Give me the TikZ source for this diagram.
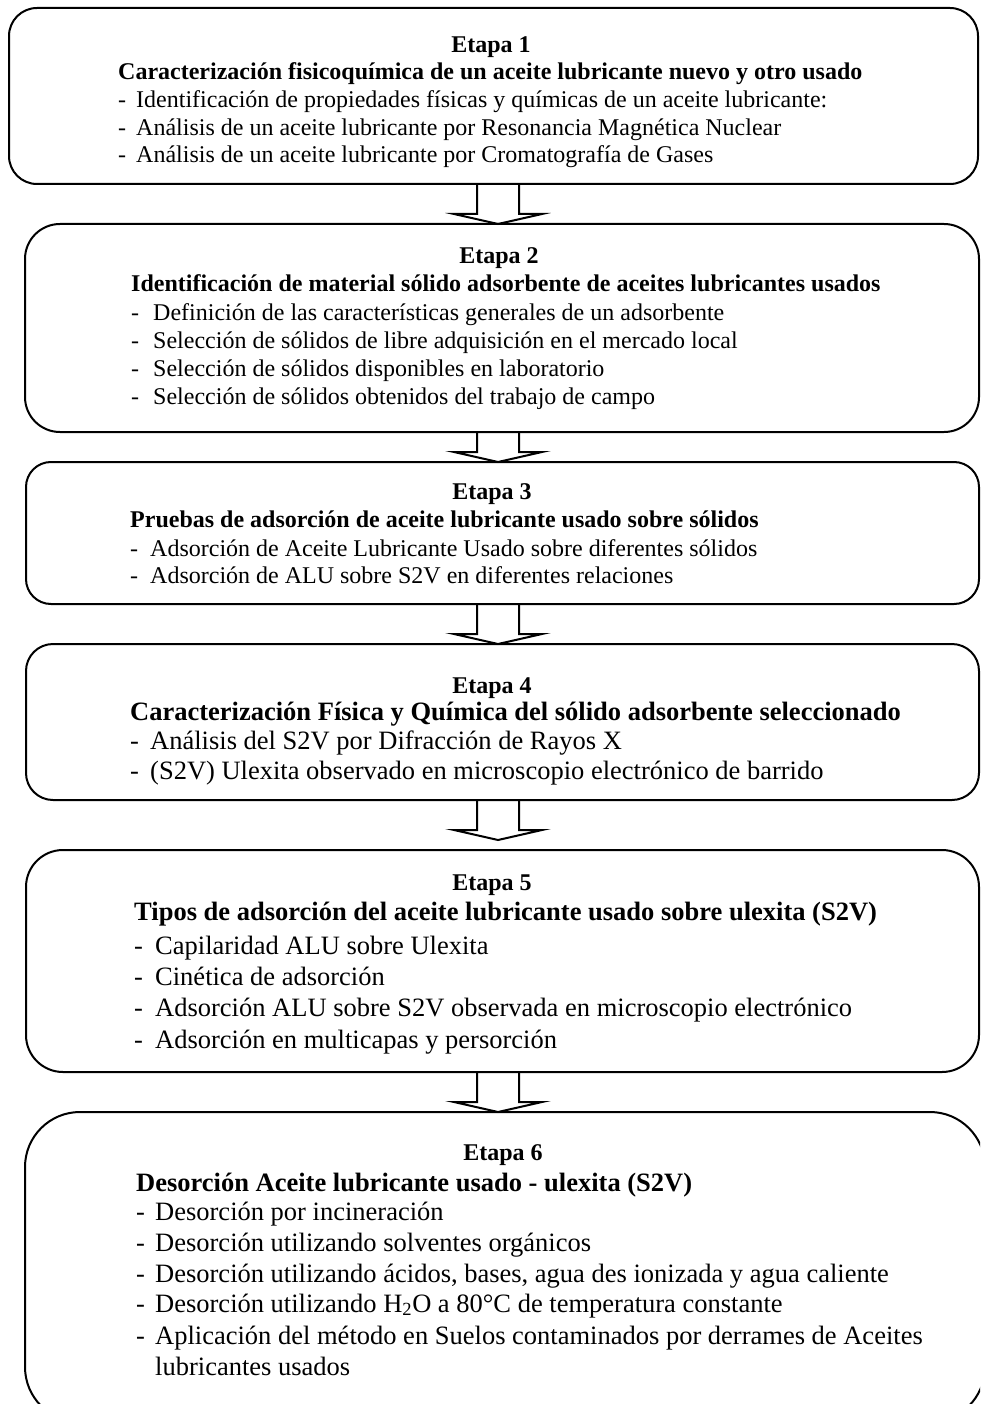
\documentclass[tikz,border=0pt]{standalone}
\usepackage{fontspec}
\setmainfont{Liberation Serif}
\usetikzlibrary{calc}
\newcommand\fsmall{\fontsize{24}{28}\selectfont}
\newcommand\flarge{\fontsize{26.5}{31}\selectfont}
\tikzset{
  box/.style={draw, line width=2pt, rectangle, inner sep=0pt, outer sep=0pt},
  ln/.style={anchor=base west, inner sep=0pt},
  etapa/.style={anchor=base, inner sep=0pt, font=\fsmall\bfseries},
  blk/.style={draw, line width=2pt, line join=miter},
}
\newcommand\itm[5]{\node[ln] (d#1) at (#2,#4) {-}; \node[ln] (t#1) at (#3,#4) {#5};}
\newcommand\blkarrow[3]{%
  \draw[blk] ($(ac |- #1.south)+(-21,0)$) -- ($(ac |- #2.north)+(-21,-10-#3)$) -- ++(-23,0)
    -- ($(ac |- #2.north)+(0,-#3)$) -- ($(ac |- #2.north)+(44,-10-#3)$) -- ++(-23,0)
    -- ($(ac |- #1.south)+(21,0)$);}
\begin{document}
\begin{tikzpicture}[x=1pt,y=-1pt]
\useasboundingbox (0,0) rectangle (980,1404);
\clip (0,0) rectangle (980,1404);
\coordinate (ac) at (498,0);
% boxes
\node[box, minimum width=969pt, minimum height=176pt, rounded corners=28pt] (b1) at (493.5,96) {};
\node[box, minimum width=954pt, minimum height=208pt, rounded corners=35pt] (b2) at (502,328) {};
\node[box, minimum width=953pt, minimum height=142pt, rounded corners=25pt] (b3) at (502.5,533) {};
\node[box, minimum width=953pt, minimum height=156pt, rounded corners=27pt] (b4) at (502.5,722) {};
\node[box, minimum width=953pt, minimum height=222pt, rounded corners=37pt] (b5) at (502.5,961) {};
\node[box, minimum width=960pt, minimum height=310pt, rounded corners=55pt] (b6) at (505,1267) {};
% arrows
\blkarrow{b1}{b2}{0}
\blkarrow{b2}{b3}{0}
\blkarrow{b3}{b4}{0}
\blkarrow{b4}{b5}{10}
\blkarrow{b5}{b6}{0}
% box 1
\node[etapa] (e1) at (491,53) {Etapa 1};
\begin{scope}[every node/.append style={font=\fsmall}]
\node[ln, font=\fsmall\bfseries] (h1) at (118,80) {Caracterización fisicoquímica de un aceite lubricante nuevo y otro usado};
\itm{11}{118}{136}{108}{Identificación de propiedades físicas y químicas de un aceite lubricante:}
\itm{12}{118}{136}{135.5}{Análisis de un aceite lubricante por Resonancia Magnética Nuclear}
\itm{13}{118}{136}{163}{Análisis de un aceite lubricante por Cromatografía de Gases}
\end{scope}
% box 2
\node[etapa] (e2) at (499,264) {Etapa 2};
\begin{scope}[every node/.append style={font=\fsmall}]
\node[ln, font=\fsmall\bfseries] (h2) at (131,292) {Identificación de material sólido adsorbente de aceites lubricantes usados};
\itm{21}{131}{153}{320}{Definición de las características generales de un adsorbente}
\itm{22}{131}{153}{348}{Selección de sólidos de libre adquisición en el mercado local}
\itm{23}{131}{153}{376}{Selección de sólidos disponibles en laboratorio}
\itm{24}{131}{153}{404}{Selección de sólidos obtenidos del trabajo de campo}
\end{scope}
% box 3
\node[etapa] (e3) at (492,499) {Etapa 3};
\begin{scope}[every node/.append style={font=\fsmall}]
\node[ln, font=\fsmall\bfseries] (h3) at (130,527) {Pruebas de adsorción de aceite lubricante usado sobre sólidos};
\itm{31}{130}{150}{556}{Adsorción de Aceite Lubricante Usado sobre diferentes sólidos}
\itm{32}{130}{150}{583}{Adsorción de ALU sobre S2V en diferentes relaciones}
\end{scope}
% box 4
\node[etapa] (e4) at (492,693) {Etapa 4};
\begin{scope}[every node/.append style={font=\flarge}]
\node[ln, font=\flarge\bfseries] (h4) at (130,720) {Caracterización Física y Química del sólido adsorbente seleccionado};
\itm{41}{130}{150}{749}{Análisis del S2V por Difracción de Rayos X}
\itm{42}{130}{150}{779}{(S2V) Ulexita observado en microscopio electrónico de barrido}
\end{scope}
% box 5
\node[etapa] (e5) at (492,890) {Etapa 5};
\begin{scope}[every node/.append style={font=\flarge}]
\node[ln, font=\flarge\bfseries] (h5) at (134,920) {Tipos de adsorción del aceite lubricante usado sobre ulexita (S2V)};
\itm{51}{134}{155}{954}{Capilaridad ALU sobre Ulexita}
\itm{52}{134}{155}{985}{Cinética de adsorción}
\itm{53}{134}{155}{1016}{Adsorción ALU sobre S2V observada en microscopio electrónico}
\itm{54}{134}{155}{1048}{Adsorción en multicapas y persorción}
\end{scope}
% box 6
\node[etapa] (e6) at (503,1160) {Etapa 6};
\begin{scope}[every node/.append style={font=\flarge}]
\node[ln, font=\flarge\bfseries] (h6) at (136,1191) {Desorción Aceite lubricante usado - ulexita (S2V)};
\itm{61}{136}{155}{1220}{Desorción por incineración}
\itm{62}{136}{155}{1251}{Desorción utilizando solventes orgánicos}
\itm{63}{136}{155}{1282}{Desorción utilizando ácidos, bases, agua des ionizada y agua caliente}
\itm{64}{136}{155}{1312}{Desorción utilizando H\textsubscript{2}O a 80°C de temperatura constante}
\itm{65}{136}{155}{1344}{Aplicación del método en Suelos contaminados por derrames de Aceites}
\node[ln] (t66) at (155,1375) {lubricantes usados};
\end{scope}
\end{tikzpicture}
\end{document}
